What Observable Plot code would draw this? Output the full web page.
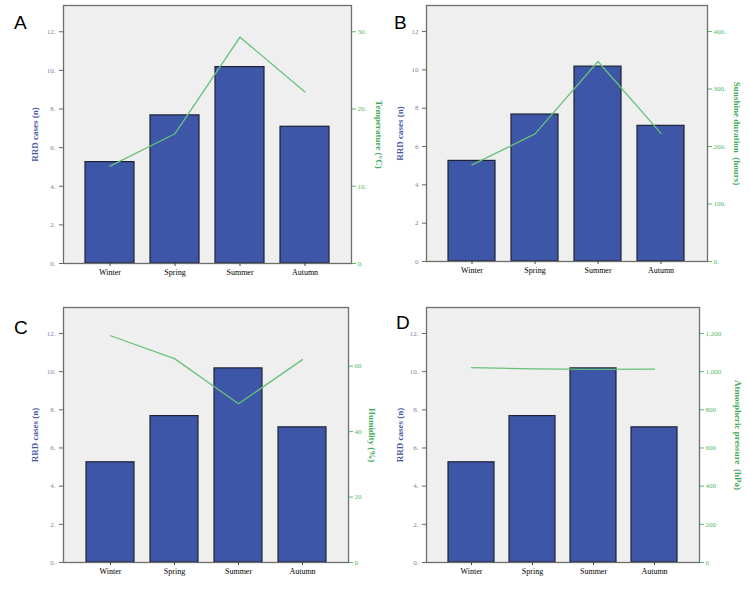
<!DOCTYPE html>
<html>
<head>
<meta charset="utf-8">
<script src="https://cdn.jsdelivr.net/npm/d3@7"></script>
<script src="https://cdn.jsdelivr.net/npm/@observablehq/plot@0.6"></script>
<style>
  body { margin: 0; background: #fff; }
  #chart { position: relative; width: 750px; height: 595px; overflow: hidden; background: #fff; }
  .panel { position: absolute; }
  .tag { position: absolute; font-family: "Liberation Sans", Arial, sans-serif; font-size: 19px; color: #000; line-height: 1; }
</style>
</head>
<body>
<div id="chart"></div>
<script>
// Seasonal RRD cases and the matching weather series
const seasons = ["Winter", "Spring", "Summer", "Autumn"];
const rrdCases = [5.25, 7.67, 10.17, 7.08];
const temperature = [12.6, 16.8, 29.3, 22.2];   // °C
const sunshine = [168, 222, 348, 223];          // hours
const humidity = [69.3, 62.3, 48.5, 62.0];      // %
const pressure = [1021, 1014, 1012, 1013];      // hPa

const caseTicks = [0, 2, 4, 6, 8, 10, 12];
const temperatureTicks = [0, 10, 20, 30];
const sunshineTicks = [0, 100, 200, 300, 400];
const humidityTicks = [0, 20, 40, 60];
const pressureTicks = [0, 200, 400, 600, 800, 1000, 1200];

const BAR_FILL = "#3e56a8";
const BAR_STROKE = "#1e2233";
const LINE_GREEN = "#66c27a";
const LABEL_GREEN = "#3cab56";
const TICK_GREEN = "#55b968";
const LEFT_TEXT = "#7b84a6";
const LEFT_LABEL = "#4657a6";
const SERIF = "'Liberation Serif', 'Times New Roman', serif";

const chart = document.getElementById("chart");

function panel(cfg) {
  const k = cfg.k; // maps the weather series onto the case axis
  const rows = seasons.map((s, i) => ({season: s, cases: rrdCases[i], weather: cfg.weather[i]}));
  const svg = Plot.plot({
    width: cfg.width,
    height: cfg.height,
    marginTop: cfg.mt,
    marginRight: cfg.mr,
    marginBottom: cfg.mb,
    marginLeft: cfg.ml,
    style: {background: "transparent", fontFamily: SERIF, overflow: "visible", color: "#000"},
    x: {domain: seasons, paddingInner: 0.25, paddingOuter: 0.34, label: null},
    y: {domain: [0, 13.36], label: null},
    marks: [
      Plot.frame({fill: "#efefef", stroke: null}),
      Plot.barY(rows, {x: "season", y: "cases", fill: BAR_FILL, stroke: BAR_STROKE, strokeWidth: 1.2}),
      Plot.line(rows, {x: "season", y: (d) => d.weather * k, stroke: LINE_GREEN, strokeWidth: 1.3}),
      Plot.frame({stroke: "#6e6e6e", strokeWidth: 1.3}),
      Plot.axisY(caseTicks, {
        anchor: "left", tickSize: 4, tickPadding: 4, fontSize: 7, fill: LEFT_TEXT, stroke: "#666",
        tickFormat: cfg.leftFormat, label: null
      }),
      Plot.axisY(cfg.rightTicks.map((v) => v * k), {
        anchor: "right", tickSize: 4, tickPadding: 2, fontSize: 7, fill: TICK_GREEN, stroke: TICK_GREEN,
        tickFormat: (v) => cfg.rightFormat(Math.round(v / k)), label: null
      }),
      Plot.axisX({tickSize: 3, tickPadding: 3, fontSize: 8, fill: "#000", stroke: "#444", label: null}),
      Plot.text(["RRD cases (n)"], {
        frameAnchor: "left", textAnchor: "middle", dx: cfg.leftDx, rotate: -90, fill: LEFT_LABEL,
        fontWeight: "bold", fontSize: 9, fontFamily: SERIF
      }),
      Plot.text([cfg.rightLabel], {
        frameAnchor: "right", textAnchor: "middle", dx: cfg.rightDx, rotate: 90, fill: LABEL_GREEN,
        fontWeight: "bold", fontSize: 9, fontFamily: SERIF
      })
    ]
  });
  const wrap = document.createElement("div");
  wrap.className = "panel";
  wrap.style.left = cfg.left + "px";
  wrap.style.top = cfg.top + "px";
  wrap.appendChild(svg);
  chart.appendChild(wrap);

  const tag = document.createElement("div");
  tag.className = "tag";
  tag.textContent = cfg.tag;
  tag.style.left = cfg.tagX + "px";
  tag.style.top = cfg.tagY + "px";
  chart.appendChild(tag);
}

const dotted = (v) => v + ".";

panel({
  tag: "A", tagX: 14, tagY: 13,
  left: 0, top: 0, width: 375, height: 290, mt: 5, mr: 24, mb: 27, ml: 63,
  weather: temperature, k: 12 / 30, rightTicks: temperatureTicks, rightFormat: dotted,
  leftFormat: dotted, rightLabel: "Temperature (°C)", leftDx: -28, rightDx: 27
});
panel({
  tag: "B", tagX: 394, tagY: 13,
  left: 375, top: 0, width: 375, height: 290, mt: 5, mr: 43, mb: 29, ml: 51,
  weather: sunshine, k: 12 / 400, rightTicks: sunshineTicks, rightFormat: dotted,
  leftFormat: (v) => String(v), rightLabel: "Sunshine duration  (hours)", leftDx: -26, rightDx: 29
});
panel({
  tag: "C", tagX: 14, tagY: 318,
  left: 0, top: 295, width: 375, height: 300, mt: 12, mr: 27, mb: 33, ml: 63,
  weather: humidity, k: 12 / 70, rightTicks: humidityTicks, rightFormat: (v) => String(v),
  leftFormat: dotted, rightLabel: "Humidity (%)", leftDx: -28, rightDx: 23
});
panel({
  tag: "D", tagX: 396, tagY: 313,
  left: 375, top: 295, width: 375, height: 300, mt: 12, mr: 51, mb: 33, ml: 51,
  weather: pressure, k: 12 / 1200, rightTicks: pressureTicks, rightFormat: d3.format(","),
  leftFormat: dotted, rightLabel: "Atmospheric pressure  (hPa)", leftDx: -26, rightDx: 38
});
</script>
</body>
</html>
